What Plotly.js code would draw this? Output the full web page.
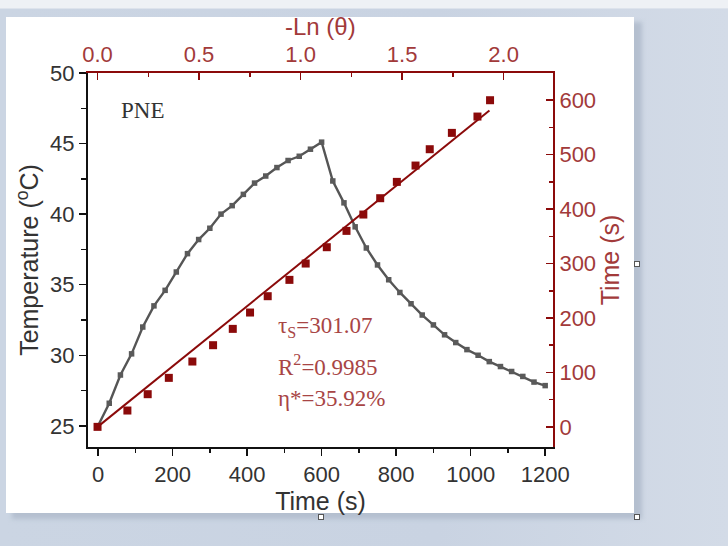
<!DOCTYPE html>
<html>
<head>
<meta charset="utf-8">
<script src="https://cdn.plot.ly/plotly-3.0.1.min.js"></script>
<style>
  html, body { margin:0; padding:0; }
  body { width:728px; height:546px; position:relative; overflow:hidden;
         background: linear-gradient(90deg, #cbd5e3 0%, #c9d3e2 60%, #d3dbe7 100%); }
  #topstrip { position:absolute; left:0; top:0; width:728px; height:8px; background:#eef1f5; border-bottom:1px solid #dde3ec; }
  #shadow { position:absolute; left:12px; top:22px; width:630px; height:497px; background:#b4bfcf; filter: blur(2px); }
  #card { position:absolute; left:6px; top:17px; width:628px; height:496px; background:#ffffff; }
  #chart { position:absolute; left:0; top:0; width:728px; height:546px; }
  .h { position:absolute; width:4px; height:4px; border:1px solid #555; background:#fff; }
</style>
</head>
<body>
<div id="topstrip"></div>
<div id="shadow"></div>
<div id="card"></div>
<div id="chart"></div>
<div class="h" style="left:318px; top:514px;"></div>
<div class="h" style="left:634px; top:514px;"></div>
<div class="h" style="left:634px; top:261px;"></div>
<script>
// Temperature profile (left / bottom axes)
const timeS = [0,30,60,90,120,150,180,210,240,270,300,330,360,390,420,450,480,510,540,570,600,
               630,660,690,720,750,780,810,840,870,900,930,960,990,1020,1050,1080,1110,1140,1170,1200];
const tempC = [25.0,26.6,28.6,30.1,32.0,33.5,34.6,35.9,37.2,38.2,39.0,40.0,40.6,41.4,42.2,42.7,43.3,43.8,44.1,44.6,45.1,
               42.35,40.8,39.1,37.6,36.4,35.35,34.45,33.65,32.85,32.15,31.45,30.9,30.4,30.0,29.55,29.2,28.85,28.5,28.1,27.85];
// Cooling analysis (top / right axes)
const negLnTheta = [0,0.147,0.247,0.351,0.467,0.569,0.666,0.751,0.838,0.945,1.025,1.129,1.226,1.309,1.392,1.474,1.566,1.636,1.745,1.871,1.933];
const coolTime   = [0,30,60,90,120,150,180,210,240,270,300,330,360,390,420,450,480,510,540,570,600];
// Linear fit line endpoints
const fitX = [0, 1.93];
const fitY = [0, 581];
// Tick labels
const topTickVals = [0, 0.5, 1.0, 1.5, 2.0];
const topTickText = ['0.0','0.5','1.0','1.5','2.0'];

const red = '#8b0a0a';
const redText = '#a23a3a';
const tickFont = {family:'Liberation Sans, Arial, sans-serif', size:22, color:'#333333'};
const redFont = {family:'Liberation Sans, Arial, sans-serif', size:22, color:redText};
const titleFont = {family:'Liberation Sans, Arial, sans-serif', size:25, color:'#333333'};
const redTitleFont = {family:'Liberation Sans, Arial, sans-serif', size:25, color:redText};
const serif = 'Liberation Serif, Times New Roman, serif';

const traces = [
  {x: timeS, y: tempC, type:'scatter', mode:'lines+markers', xaxis:'x', yaxis:'y',
   line:{color:'#555555', width:2.4}, marker:{symbol:'square', size:5.5, color:'#5a5a5a'}, hoverinfo:'skip'},
  {x: fitX, y: fitY, type:'scatter', mode:'lines', xaxis:'x2', yaxis:'y2',
   line:{color:red, width:2}, hoverinfo:'skip'},
  {x: negLnTheta, y: coolTime, type:'scatter', mode:'markers', xaxis:'x2', yaxis:'y2',
   marker:{symbol:'square', size:8, color:red}, hoverinfo:'skip'}
];

const layout = {
  width:728, height:546,
  margin:{l:88, r:175, t:73, b:99},
  paper_bgcolor:'rgba(0,0,0,0)', plot_bgcolor:'#ffffff',
  showlegend:false,
  xaxis:{range:[-27,1221], dtick:200, tick0:0, ticks:'outside', ticklen:7, tickwidth:1.5, tickcolor:'#111',
         minor:{ticks:'outside', ticklen:4, dtick:100, tickcolor:'#111'},
         showline:true, linecolor:'#111', linewidth:2, showgrid:false, zeroline:false,
         tickfont:tickFont, title:{text:'Time (s)', font:titleFont, standoff:2}},
  yaxis:{range:[23.5,50], dtick:5, tick0:25, ticks:'outside', ticklen:7, tickwidth:1.5, tickcolor:'#111',
         minor:{ticks:'outside', ticklen:5, dtick:2.5, tickcolor:'#111'},
         showline:true, linecolor:'#111', linewidth:2, showgrid:false, zeroline:false,
         tickfont:tickFont, title:{text:'Temperature (<sup>o</sup>C)', font:titleFont, standoff:4}},
  xaxis2:{overlaying:'x', side:'top', range:[-0.047,2.243], tickvals:topTickVals, ticktext:topTickText,
          ticks:'inside', ticklen:7, tickwidth:1.5, tickcolor:red,
          minor:{ticks:'inside', ticklen:4, dtick:0.25, tickcolor:red},
          showline:true, linecolor:red, linewidth:2, showgrid:false, zeroline:false,
          tickfont:redFont, title:{text:''}},
  yaxis2:{overlaying:'y', side:'right', range:[-37,650], dtick:100, tick0:0,
          ticks:'inside', ticklen:7, tickwidth:1.5, tickcolor:red,
          minor:{ticks:'inside', ticklen:4, dtick:50, tickcolor:red},
          showline:true, linecolor:red, linewidth:2, showgrid:false, zeroline:false,
          tickfont:redFont, title:{text:'Time (s)', font:redTitleFont, standoff:6}},
  annotations:[
    {xref:'paper', yref:'paper', x:0.5, y:1, yshift:31, xanchor:'center', yanchor:'bottom', showarrow:false,
     text:'-Ln (θ)', font:{family:'Liberation Sans, Arial, sans-serif', size:24, color:redText}},
    {xref:'paper', yref:'paper', x:0.066, y:0.90, xanchor:'left', yanchor:'middle', showarrow:false,
     text:'PNE', font:{family:serif, size:23, color:'#333333'}},
    {xref:'paper', yref:'paper', x:0.405, y:0.32, xanchor:'left', yanchor:'middle', showarrow:false,
     text:'τ<sub>S</sub>=301.07', font:{family:serif, size:23, color:'#a84545'}},
    {xref:'paper', yref:'paper', x:0.405, y:0.218, xanchor:'left', yanchor:'middle', showarrow:false,
     text:'R<sup>2</sup>=0.9985', font:{family:serif, size:23, color:'#a84545'}},
    {xref:'paper', yref:'paper', x:0.405, y:0.13, xanchor:'left', yanchor:'middle', showarrow:false,
     text:'η*=35.92%', font:{family:serif, size:23, color:'#a84545'}}
  ]
};

Plotly.newPlot('chart', traces, layout, {displayModeBar:false, staticPlot:true});
</script>
</body>
</html>
